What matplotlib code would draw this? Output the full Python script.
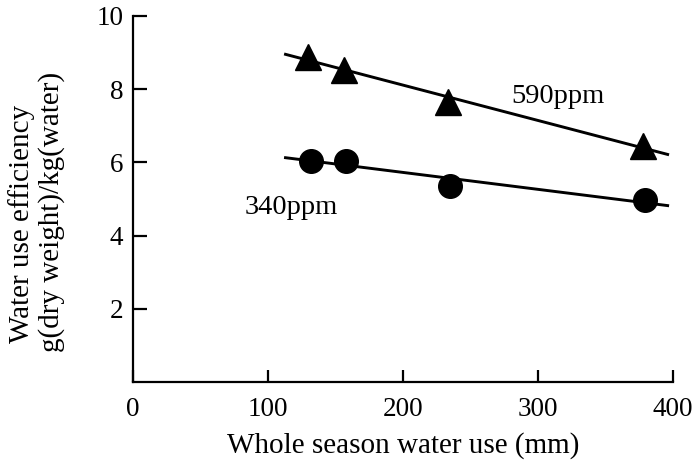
import numpy as np
import matplotlib
matplotlib.use("Agg")
import matplotlib.pyplot as plt

plt.rcParams['font.family'] = ['Liberation Serif', 'DejaVu Serif']

# Data
water_use_590 = [130, 156, 233, 378]
wue_590 = [8.88, 8.52, 7.65, 6.45]
water_use_340 = [132, 158, 235, 379]
wue_340 = [6.05, 6.04, 5.36, 4.97]
fit_range = [113, 396]
x_ticks = [0, 100, 200, 300, 400]
y_ticks = [2, 4, 6, 8, 10]
label_590 = "590ppm"
label_340 = "340ppm"

fig = plt.figure(figsize=(6.96, 4.66), dpi=100)
ax = fig.add_axes([0.191, 0.180, 0.776, 0.786])

xf = np.array(fit_range, dtype=float)
for xs, ys in [(water_use_590, wue_590), (water_use_340, wue_340)]:
    k, b = np.polyfit(xs, ys, 1)
    ax.plot(xf, k * xf + b, color='black', lw=2.1, zorder=2)

ax.plot(water_use_590, wue_590, linestyle='none', marker='^', ms=18.5,
        color='black', zorder=3)
ax.plot(water_use_340, wue_340, linestyle='none', marker='o', ms=17,
        color='black', zorder=3)

ax.text(280, 7.79, label_590, fontsize=20.5, va='center', ha='left')
ax.text(83, 4.78, label_340, fontsize=20.5, va='center', ha='left')

ax.set_xlim(0, 400)
ax.set_ylim(0, 10)
ax.set_xticks(x_ticks)
ax.set_yticks(y_ticks)
ax.spines['top'].set_visible(False)
ax.spines['right'].set_visible(False)
for s in ['left', 'bottom']:
    ax.spines[s].set_linewidth(1.6)
ax.tick_params(axis='x', direction='in', length=9, width=1.6, pad=11,
               labelsize=19.5)
ax.tick_params(axis='y', direction='in', length=10, width=1.6, pad=7,
               labelsize=19.5)

ax.set_xlabel("Whole season water use (mm)", fontsize=21, labelpad=7)
fig.text(0.031, 0.52, "Water use efficiency", rotation=90, fontsize=21,
         ha='center', va='center')
fig.text(0.074, 0.545, "g(dry weight)/kg(water)", rotation=90, fontsize=21,
         ha='center', va='center')

fig.savefig("out.png", dpi=100)
